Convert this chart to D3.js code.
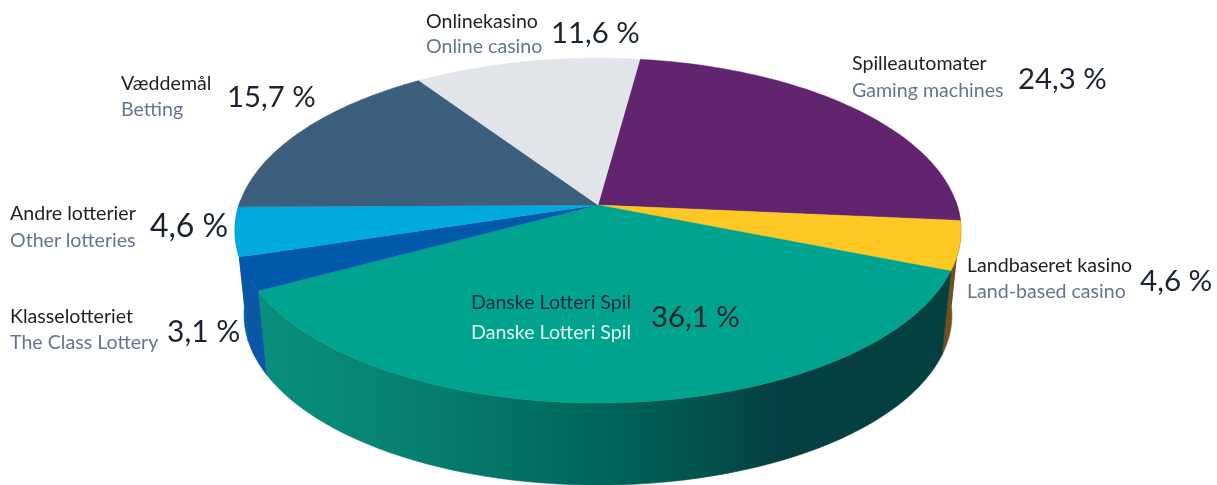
<!DOCTYPE html>
<html><head><meta charset="utf-8">
<script src="https://cdn.jsdelivr.net/npm/d3@7/dist/d3.min.js"></script>
<style>html,body{margin:0;background:#fff}svg{display:block;filter:blur(.45px)}text{font-family:Lato,"Open Sans",sans-serif}</style>
</head><body><svg id="c" width="1217" height="485"></svg>
<script>
const namesDa=["Spilleautomater","Landbaseret kasino","Danske Lotteri Spil","Klasselotteriet","Andre lotterier","Væddemål","Onlinekasino"];
const namesEn=["Gaming machines","Land-based casino","Danske Lotteri Spil","The Class Lottery","Other lotteries","Betting","Online casino"];
const shares=[24.3,4.6,36.1,3.1,4.6,15.7,11.6];
const shareLabels=["24,3 %","4,6 %","36,1 %","3,1 %","4,6 %","15,7 %","11,6 %"];
const topColors=["#62246e","#fdc823","#00a38d","#0059ab","#00a9e0","#3b5f7c","#e1e4e8"];
const sideColors=["#6f5120","#6f5120","url(#tealSide)","#0a57a5","#0a57a5","#0a57a5","#e1e4e8"];

// label layout: [x, baseline DA, baseline EN, x pct, baseline pct, pct size]
const labelLayout=[[852,70,97,1018,89,29.3],[967,272,298,1140,291,29.6],[471,309,339,651,327,29.3],[10,323,349,167,342,30],[10,220,247,150,237,32],[121,90,116,227,107,29.3],[426,28,53,551,43,29.3]];

const svg=d3.select("#c");
const cx=598,cy=205,k=.148,a=168.7,b=359,rimCy=230.5,baseCy=315,sx=.975,sy=.986;
const start=7.7*Math.PI/180;
const arcs=d3.pie().sort(null).value(d=>d).startAngle(start).endAngle(start+2*Math.PI)(shares);
const rimPt=t=>{const u=Math.sin(t),v=-Math.cos(t),w=1-k*v;return [cx+b*u/w,cy+a*v/w];};
const basePt=t=>{const p=rimPt(t);return [cx+(p[0]-cx)*sx,baseCy+(p[1]-rimCy)*sy];};
const samples=(t0,t1)=>d3.range(0,61).map(i=>t0+(t1-t0)*i/60);
const line=d3.line();

const defs=svg.append("defs");
const grad=defs.append("linearGradient").attr("id","tealSide").attr("gradientUnits","userSpaceOnUse").attr("x1",258).attr("x2",950).attr("y1",0).attr("y2",0);
[[0,"#0a8f7c"],[.2,"#078272"],[.45,"#006a60"],[.62,"#00564f"],[.75,"#063f43"],[1,"#04403f"]].forEach(s=>grad.append("stop").attr("offset",s[0]).attr("stop-color",s[1]));

// side walls, only the part facing the viewer
const frontA=Math.PI/2-.03,frontB=3*Math.PI/2+.03;
arcs.forEach((d,i)=>{
  for(const off of [0,2*Math.PI]){
    const t0=Math.max(d.startAngle-off,frontA),t1=Math.min(d.endAngle-off,frontB);
    if(t1<=t0)continue;
    const ts=samples(t0,t1);
    svg.append("path").attr("d",line(ts.map(rimPt).concat(ts.slice().reverse().map(basePt)))+"Z").attr("fill",sideColors[i]).attr("stroke",sideColors[i]).attr("stroke-width",.6);
  }
});
// top face
arcs.forEach((d,i)=>{
  const pts=[[cx,cy]].concat(samples(d.startAngle,d.endAngle).map(rimPt));
  svg.append("path").attr("d",line(pts)+"Z").attr("fill",topColors[i]).attr("stroke",topColors[i]).attr("stroke-width",.4);
});
// labels
shares.forEach((s,i)=>{
  const L=labelLayout[i],inside=i===2;
  svg.append("text").attr("x",L[0]).attr("y",L[1]).attr("font-size",19.6).attr("fill",inside?"#0c2c38":"#1f1f24").text(namesDa[i]);
  svg.append("text").attr("x",L[0]).attr("y",L[2]).attr("font-size",19.6).attr("fill",inside?"#dff3ee":"#66758f").text(namesEn[i]);
  svg.append("text").attr("x",L[3]).attr("y",L[4]).attr("font-size",L[5]).attr("fill","#1b2330").text(shareLabels[i]);
});
</script></body></html>
